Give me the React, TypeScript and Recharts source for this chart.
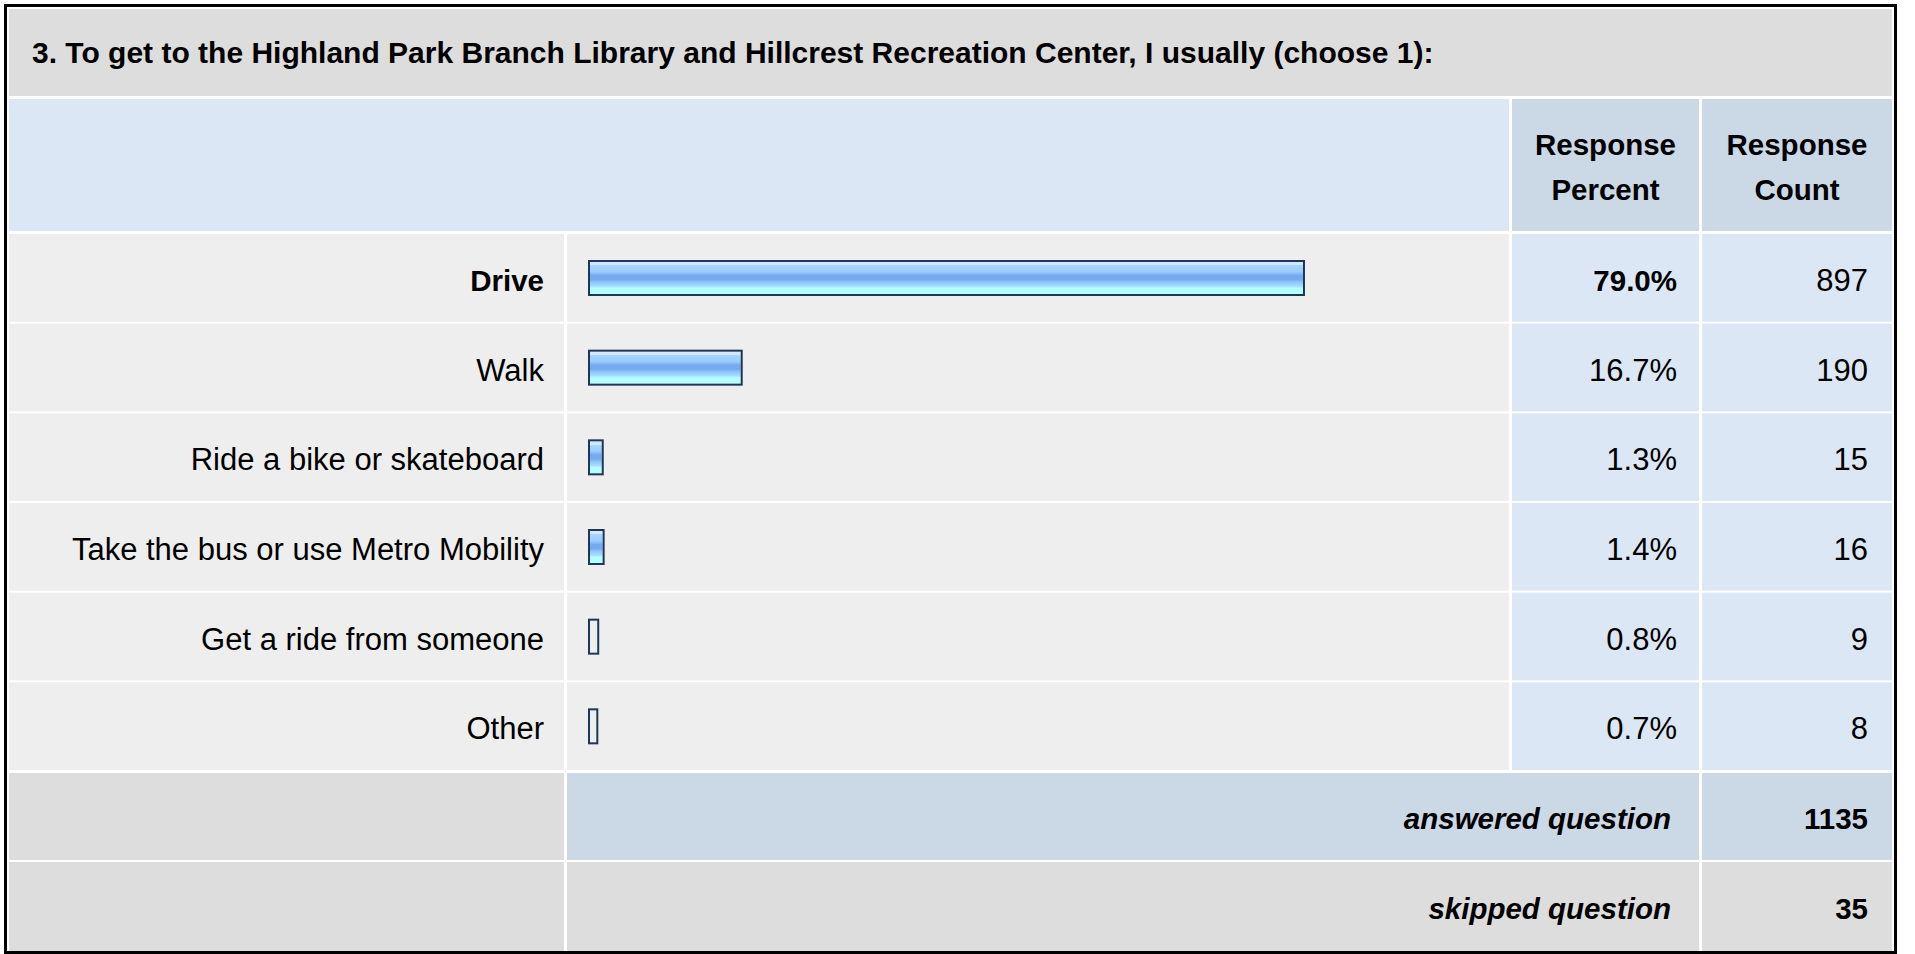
import { BarChart, Bar, XAxis, YAxis } from 'recharts';

// survey question 3 - how people get to the library / rec center
const title = '3. To get to the Highland Park Branch Library and Hillcrest Recreation Center, I usually (choose 1):';
const labels = [
  'Drive',
  'Walk',
  'Ride a bike or skateboard',
  'Take the bus or use Metro Mobility',
  'Get a ride from someone',
  'Other',
];
const percents = [79.0, 16.7, 1.3, 1.4, 0.8, 0.7];
const counts = [897, 190, 15, 16, 9, 8];
const headerLines = [['Response', 'Percent'], ['Response', 'Count']];
const answeredCount = 1135;
const skippedCount = 35;

const W = 1915;
const H = 954;
const FONT = '"Liberation Sans", Arial, Helvetica, sans-serif';

// column edges
const LABEL_L = 9;
const LABEL_R = 564;
const BAR_L = 567;
const BAR_R = 1509;
const PCT_L = 1512;
const PCT_R = 1699;
const CNT_L = 1702;
const CNT_R = 1892;

// row geometry
const ROWS_TOP = 233;
const ROWS_BOTTOM = 771;
const ROW_STEP = (ROWS_BOTTOM - ROWS_TOP) / labels.length;

const C_TITLE = '#dddddd';
const C_ROW = '#eeeeee';
const C_LIGHT = '#dce7f5';
const C_HEAD = '#cbd8e6';

const maxPct = Math.max(...percents);
const rows = labels.map((label, i) => ({ label, pct: percents[i], count: counts[i] }));

function TableFrame() {
  const ansTop = ROWS_BOTTOM + 2;
  const skipTop = ansTop + 89;
  return (
    <svg width={W} height={H} style={{ position: 'absolute', left: 0, top: 0 }}>
      <rect x={0} y={0} width={W} height={H} fill="#ffffff" />
      <rect x={5.5} y={5.5} width={1890} height={947} fill="none" stroke="#000" strokeWidth={3} />

      {/* title band */}
      <rect x={LABEL_L} y={9} width={CNT_R - LABEL_L} height={87} fill={C_TITLE} />
      <text x={32} y={63} fontFamily={FONT} fontSize={30} fontWeight="bold" fill="#000">{title}</text>

      {/* header */}
      <rect x={LABEL_L} y={99} width={BAR_R - LABEL_L} height={132} fill={C_LIGHT} />
      <rect x={PCT_L} y={99} width={PCT_R - PCT_L} height={132} fill={C_HEAD} />
      <rect x={CNT_L} y={99} width={CNT_R - CNT_L} height={132} fill={C_HEAD} />
      {headerLines.map((lines, c) => {
        const cx = c === 0 ? (PCT_L + PCT_R) / 2 : (CNT_L + CNT_R) / 2;
        return lines.map((t, k) => (
          <text key={c + '-' + k} x={cx} y={155 + k * 45} textAnchor="middle" fontFamily={FONT}
            fontSize={29.5} fontWeight="bold" fill="#000">{t}</text>
        ));
      })}

      {/* data rows */}
      {labels.map((_, i) => {
        const top = ROWS_TOP + i * ROW_STEP + 1;
        const h = ROW_STEP - 2;
        return (
          <g key={i}>
            <rect x={LABEL_L} y={top} width={LABEL_R - LABEL_L} height={h} fill={C_ROW} />
            <rect x={BAR_L} y={top} width={BAR_R - BAR_L} height={h} fill={C_ROW} />
            <rect x={PCT_L} y={top} width={PCT_R - PCT_L} height={h} fill={C_LIGHT} />
            <rect x={CNT_L} y={top} width={CNT_R - CNT_L} height={h} fill={C_LIGHT} />
          </g>
        );
      })}

      {/* answered / skipped */}
      <rect x={LABEL_L} y={ansTop} width={LABEL_R - LABEL_L} height={87} fill={C_TITLE} />
      <rect x={BAR_L} y={ansTop} width={PCT_R - BAR_L} height={87} fill={C_HEAD} />
      <rect x={CNT_L} y={ansTop} width={CNT_R - CNT_L} height={87} fill={C_HEAD} />
      <rect x={LABEL_L} y={skipTop} width={LABEL_R - LABEL_L} height={89} fill={C_TITLE} />
      <rect x={BAR_L} y={skipTop} width={PCT_R - BAR_L} height={89} fill={C_TITLE} />
      <rect x={CNT_L} y={skipTop} width={CNT_R - CNT_L} height={89} fill={C_TITLE} />
      <text x={1671} y={ansTop + 56} textAnchor="end" fontFamily={FONT} fontSize={29.5}
        fontWeight="bold" fontStyle="italic" fill="#000">answered question</text>
      <text x={1868} y={ansTop + 56} textAnchor="end" fontFamily={FONT} fontSize={29.5}
        fontWeight="bold" fill="#000">{answeredCount}</text>
      <text x={1671} y={skipTop + 57} textAnchor="end" fontFamily={FONT} fontSize={29.5}
        fontWeight="bold" fontStyle="italic" fill="#000">skipped question</text>
      <text x={1868} y={skipTop + 57} textAnchor="end" fontFamily={FONT} fontSize={29.5}
        fontWeight="bold" fill="#000">{skippedCount}</text>
    </svg>
  );
}

// row label + percent + count, placed on the category centre from the y scale
function RowTick(props: any) {
  const { y, payload } = props;
  const i = labels.indexOf(payload.value);
  const isTop = percents[i] === maxPct;
  const base = y + 13;
  const size = isTop ? 29.5 : 31;
  const weight = isTop ? 'bold' : 'normal';
  return (
    <g>
      <text x={544} y={base} textAnchor="end" fontFamily={FONT} fontSize={size} fontWeight={weight} fill="#000">
        {payload.value}
      </text>
      <text x={1677} y={base} textAnchor="end" fontFamily={FONT} fontSize={size} fontWeight={weight} fill="#000">
        {percents[i].toFixed(1)}%
      </text>
      <text x={1868} y={base} textAnchor="end" fontFamily={FONT} fontSize={31} fill="#000">
        {counts[i]}
      </text>
    </g>
  );
}

function GlossyBar(props: any) {
  const { x, y, width, height, payload } = props;
  const showFill = payload.pct >= 1;
  return (
    <g>
      {showFill && <rect x={x} y={y + 2} width={width} height={height - 4} fill="url(#barGloss)" />}
      <rect x={x - 1} y={y + 1} width={width + 2} height={height - 2} fill="none" stroke="#1e3657" strokeWidth={2} />
    </g>
  );
}

export default function App() {
  return (
    <div style={{ position: 'absolute', left: 0, top: 0, width: W, height: H }}>
      <TableFrame />
      <div style={{ position: 'absolute', left: 0, top: 0 }}>
        <BarChart width={W} height={H} layout="vertical" data={rows}
          margin={{ top: ROWS_TOP, right: W - 590 - 902.5, bottom: H - ROWS_BOTTOM, left: 0 }}>
          <defs>
            <linearGradient id="barGloss" x1="0" y1="0" x2="0" y2="1">
              <stop offset="0" stopColor="#d2e8ff" />
              <stop offset="0.1" stopColor="#d2e8ff" />
              <stop offset="0.1" stopColor="#a8d4ff" />
              <stop offset="0.3" stopColor="#9ccdff" />
              <stop offset="0.36" stopColor="#88bdf8" />
              <stop offset="0.42" stopColor="#76aaf0" />
              <stop offset="0.55" stopColor="#76aaf0" />
              <stop offset="0.62" stopColor="#8cc4fa" />
              <stop offset="0.75" stopColor="#a4dcff" />
              <stop offset="0.82" stopColor="#b4ffff" />
              <stop offset="1" stopColor="#b4ffff" />
            </linearGradient>
          </defs>
          <XAxis type="number" domain={[0, 100]} hide />
          <YAxis type="category" dataKey="label" width={590} axisLine={false} tickLine={false}
            interval={0} tick={<RowTick />} />
          <Bar dataKey="pct" barSize={36} shape={<GlossyBar />} isAnimationActive={false} />
        </BarChart>
      </div>
    </div>
  );
}
